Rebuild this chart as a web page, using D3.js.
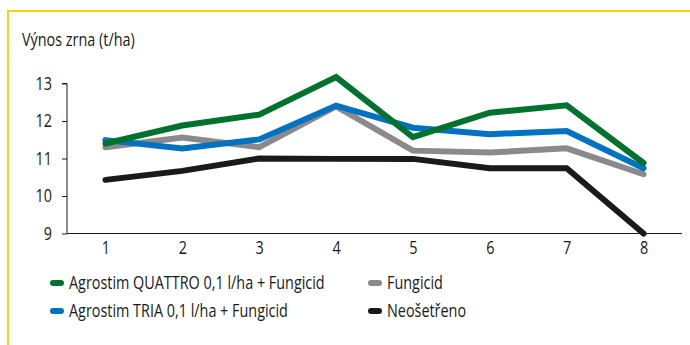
<!DOCTYPE html>
<html>
<head>
<meta charset="utf-8">
<script src="https://cdn.jsdelivr.net/npm/d3@7"></script>
<style>
  body { margin: 0; background: #fff; }
  svg text { font-family: "Open Sans", sans-serif; fill: #1a1a1a; }
</style>
</head>
<body>
<svg width="690" height="345"></svg>
<script>
'use strict';

var categories = [1, 2, 3, 4, 5, 6, 7, 8];
var quattro = [11.4, 11.88, 12.17, 13.17, 11.57, 12.22, 12.42, 10.88];
var tria = [11.49, 11.27, 11.51, 12.41, 11.82, 11.65, 11.73, 10.74];
var fungicid = [11.3, 11.56, 11.3, 12.39, 11.21, 11.16, 11.27, 10.58];
var neosetreno = [10.43, 10.67, 11.0, 10.99, 10.99, 10.74, 10.74, 9.0];
var yTicks = [9, 10, 11, 12, 13];

var series = [
  {name: "Agrostim QUATTRO 0,1 l/ha + Fungicid", values: quattro, color: "#00722e"},
  {name: "Agrostim TRIA 0,1 l/ha + Fungicid", values: tria, color: "#0072c1"},
  {name: "Fungicid", values: fungicid, color: "#8a8a8a"},
  {name: "Neošetřeno", values: neosetreno, color: "#1a1a1a"}
];

var svg = d3.select("svg");

// the original font is narrow, squeeze Open Sans horizontally
var squeeze = 0.8;
function condense(sel) {
  sel.each(function() {
    var t = d3.select(this);
    var x0 = +t.attr("x") || 0;
    t.attr("x", 0).attr("transform", "translate(" + x0 + ",0) scale(" + squeeze + ",1)");
  });
}

// yellow frame
svg.append("rect")
  .attr("x", 8).attr("y", 11)
  .attr("width", 700).attr("height", 350)
  .attr("fill", "none")
  .attr("stroke", "#ffd400")
  .attr("stroke-width", 2);

var plotLeft = 67, plotRight = 682, plotTop = 83.5, plotBottom = 233.5;

var x = d3.scalePoint().domain(categories).range([plotLeft, plotRight]).padding(0.5);
var y = d3.scaleLinear().domain([9, 13]).range([plotBottom, plotTop]);

svg.append("text")
  .attr("x", 22).attr("y", 46)
  .style("font-size", "18px")
  .text("Výnos zrna (t/ha)")
  .call(condense);

var yAxis = d3.axisLeft(y).tickValues(yTicks).tickFormat(d3.format("d")).tickSize(5).tickPadding(10);
var gy = svg.append("g").attr("transform", "translate(" + plotLeft + ",0)").call(yAxis);
gy.select(".domain").attr("stroke", "#1a1a1a").attr("d", "M-5," + plotTop + "H0V" + plotBottom);
gy.selectAll(".tick line").attr("stroke", "#1a1a1a");
gy.selectAll("text").style("font-size", "18px").attr("fill", "#1a1a1a").call(condense);

var xAxis = d3.axisBottom(x).tickSize(0).tickPadding(8);
var gx = svg.append("g").attr("transform", "translate(0," + plotBottom + ")").call(xAxis);
gx.select(".domain").attr("stroke", "#1a1a1a").attr("d", "M" + plotLeft + ",0H" + plotRight);
gx.selectAll("text").style("font-size", "18px").attr("fill", "#1a1a1a").call(condense);

var line = d3.line()
  .x(function(d, i) { return x(categories[i]); })
  .y(function(d) { return y(d); });

// draw in order so neošetřeno and quattro stay on top like the original
[series[3], series[2], series[1], series[0]].forEach(function(s) {
  svg.append("path")
    .attr("d", line(s.values))
    .attr("fill", "none")
    .attr("stroke", s.color)
    .attr("stroke-width", 6)
    .attr("stroke-linejoin", "miter")
    .attr("stroke-linecap", "round");
});

// legend
var legendPos = [
  {x: 50, y: 283}, {x: 50, y: 311}, {x: 368, y: 283}, {x: 368, y: 311}
];
series.forEach(function(s, i) {
  var p = legendPos[i];
  var g = svg.append("g").attr("transform", "translate(" + p.x + "," + p.y + ")");
  g.append("line")
    .attr("x1", 3).attr("x2", 11).attr("y1", 0).attr("y2", 0)
    .attr("stroke", s.color).attr("stroke-width", 6).attr("stroke-linecap", "round");
  g.append("text")
    .attr("x", 19).attr("dy", "0.35em")
    .style("font-size", "18px")
    .text(s.name)
    .call(condense);
});
</script>
</body>
</html>
